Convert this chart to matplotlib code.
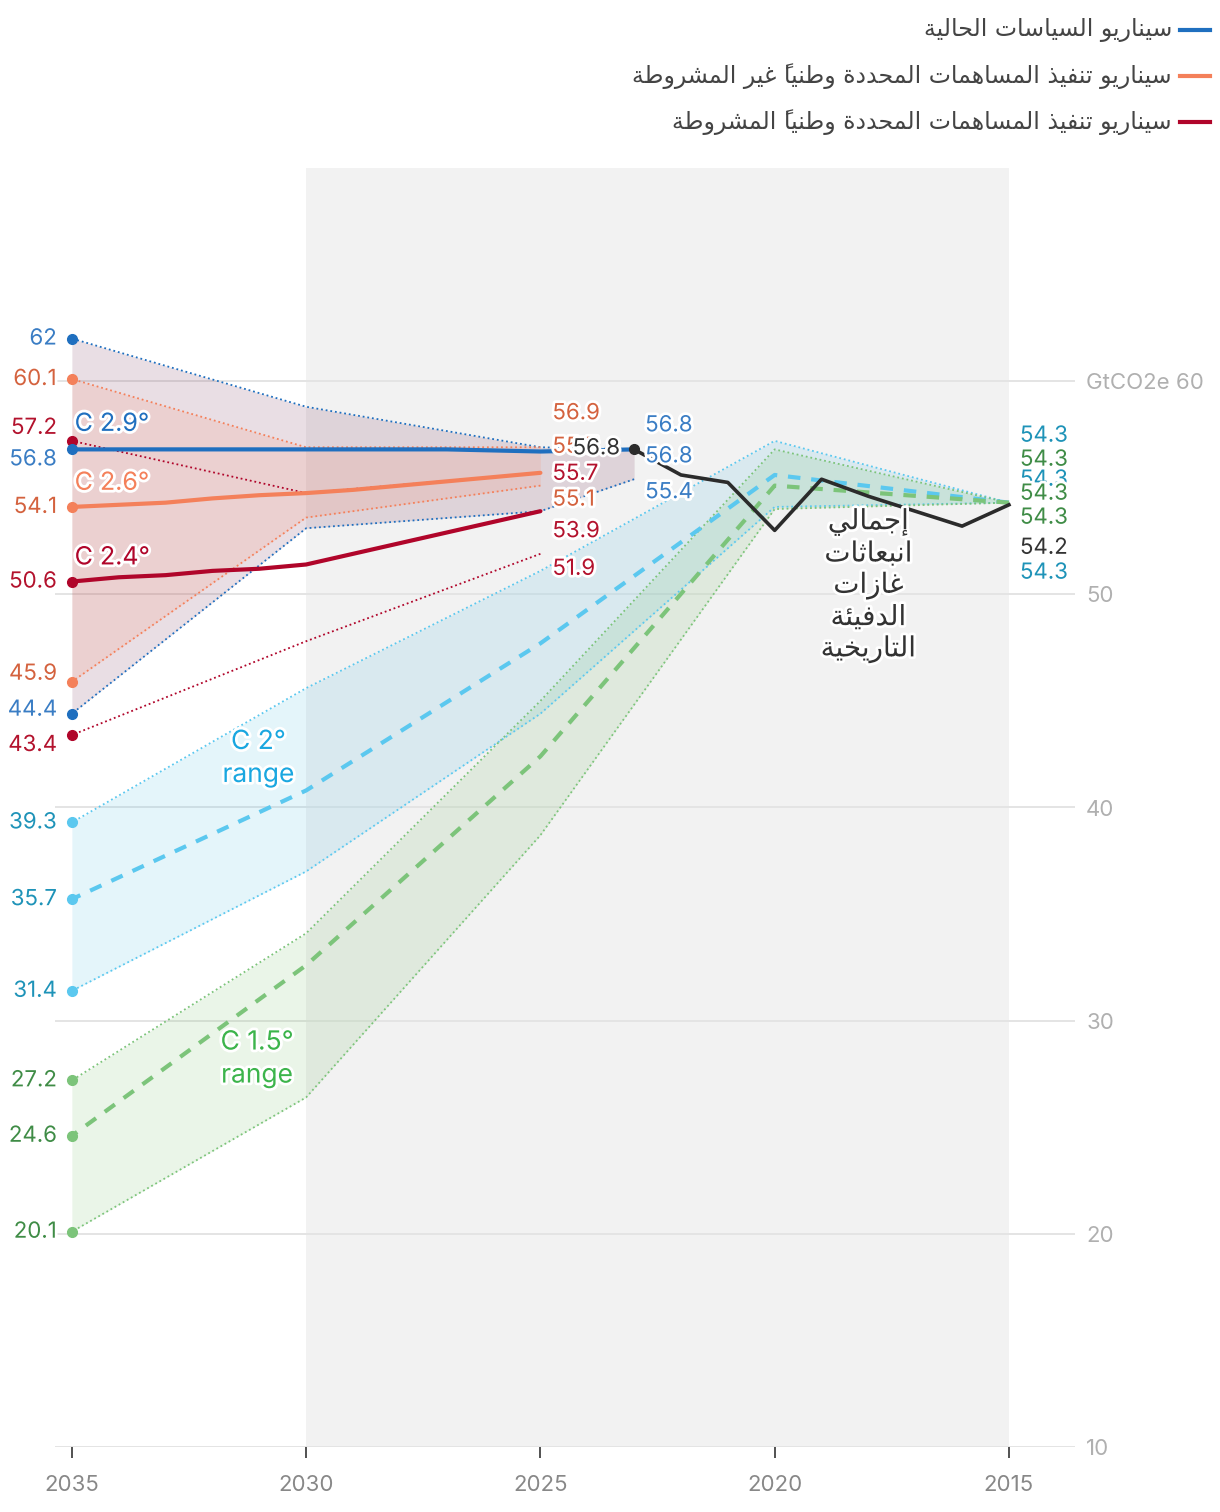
import matplotlib
matplotlib.use('Agg')
import matplotlib.pyplot as plt
import matplotlib.patheffects as pe
from matplotlib.lines import Line2D

plt.rcParams['font.family'] = ['Inter', 'DejaVu Sans']

# ---- data (GtCO2e) ----
hist_years = [2015, 2016, 2017, 2018, 2019, 2020, 2021, 2022, 2023]
hist = [54.2, 53.2, 53.9, 54.6, 55.4, 53.0, 55.25, 55.6, 56.8]

cp_years = [2023, 2024, 2025, 2026, 2027, 2028, 2029, 2030, 2031, 2032, 2033, 2034, 2035]
cp_mid = [56.8, 56.75, 56.7, 56.75, 56.8, 56.8, 56.8, 56.8, 56.8, 56.8, 56.8, 56.8, 56.8]
cp_range_years = [2023, 2025, 2030, 2035]
cp_high = [56.8, 56.9, 58.8, 62.0]
cp_low = [55.4, 53.9, 53.1, 44.4]

ndc_years = [2025, 2026, 2027, 2028, 2029, 2030, 2031, 2032, 2033, 2034, 2035]
uncond_mid = [55.7, 55.5, 55.3, 55.1, 54.9, 54.75, 54.65, 54.5, 54.3, 54.2, 54.1]
cond_mid = [53.9, 53.4, 52.9, 52.4, 51.9, 51.4, 51.2, 51.1, 50.9, 50.8, 50.6]
ndc_range_years = [2025, 2030, 2035]
uncond_high = [56.9, 56.9, 60.1]
uncond_low = [55.1, 53.6, 45.9]
cond_high = [55.7, 54.75, 57.2]
cond_low = [51.9, 47.8, 43.4]

path_years = [2015, 2020, 2025, 2030, 2035]
c2_high = [54.3, 57.2, 51.1, 45.6, 39.3]
c2_mid = [54.3, 55.6, 47.7, 40.8, 35.7]
c2_low = [54.3, 54.1, 44.4, 37.0, 31.4]
c15_high = [54.3, 56.8, 45.0, 34.1, 27.2]
c15_mid = [54.3, 55.1, 42.4, 32.6, 24.6]
c15_low = [54.3, 54.0, 38.7, 26.4, 20.1]

legend_labels = [
    'سيناريو السياسات الحالية',
    'سيناريو تنفيذ المساهمات المحددة وطنياً غير المشروطة',
    'سيناريو تنفيذ المساهمات المحددة وطنياً المشروطة',
]
hist_label = ['إجمالي', 'انبعاثات', 'غازات', 'الدفيئة', 'التاريخية']
x_ticks = [2035, 2030, 2025, 2020, 2015]
y_ticks = [10, 20, 30, 40, 50, 60]
y_ticklabels = ['10', '20', '30', '40', '50', 'GtCO2e 60']

BLUE = '#1f6fbf'
ORANGE = '#f4805a'
RED = '#b0052a'
CYAN = '#5bc8ef'
GREEN = '#7cc47a'
BLACK = '#2b2b2b'

# ---- minimal arabic shaping (matplotlib has no complex text layout) ----
dual = {'\u0626': 0xFE89, '\u0628': 0xFE8F, '\u062A': 0xFE95, '\u062B': 0xFE99,
        '\u062C': 0xFE9D, '\u062D': 0xFEA1, '\u062E': 0xFEA5, '\u0633': 0xFEB1,
        '\u0634': 0xFEB5, '\u0635': 0xFEB9, '\u0636': 0xFEBD, '\u0637': 0xFEC1,
        '\u0638': 0xFEC5, '\u0639': 0xFEC9, '\u063A': 0xFECD, '\u0641': 0xFED1,
        '\u0642': 0xFED5, '\u0643': 0xFED9, '\u0644': 0xFEDD, '\u0645': 0xFEE1,
        '\u0646': 0xFEE5, '\u0647': 0xFEE9, '\u064A': 0xFEF1}
right = {'\u0622': 0xFE81, '\u0623': 0xFE83, '\u0624': 0xFE85, '\u0625': 0xFE87,
         '\u0627': 0xFE8D, '\u0629': 0xFE93, '\u062F': 0xFEA9, '\u0630': 0xFEAB,
         '\u0631': 0xFEAD, '\u0632': 0xFEAF, '\u0648': 0xFEED, '\u0649': 0xFEEF}
lamalef = {'\u0622': 0xFEF5, '\u0623': 0xFEF7, '\u0625': 0xFEF9, '\u0627': 0xFEFB}


def kind(c):
    if c in dual:
        return 'D'
    if c in right or c.startswith('LA'):
        return 'R'
    return 'N'


def ar(text):
    items = []
    for ch in text:
        if '\u064B' <= ch <= '\u0652' and items:
            items[-1][1] += ch
        elif ch in lamalef and items and items[-1][0] == '\u0644':
            items[-1][0] = 'LA' + ch
        else:
            items.append([ch, ''])
    glyphs = []
    for i, (c, marks) in enumerate(items):
        k = kind(c)
        prev_j = i > 0 and kind(items[i - 1][0]) == 'D'
        next_j = k == 'D' and i + 1 < len(items) and kind(items[i + 1][0]) != 'N'
        if k == 'N':
            g = c
        else:
            base = lamalef[c[2]] if c.startswith('LA') else dual.get(c, right.get(c))
            off = 3 if (prev_j and next_j) else 1 if prev_j else 2 if next_j else 0
            g = chr(base + off)
        glyphs.append(marks + g)
    return ''.join(reversed(glyphs))


# ---- figure ----
fig = plt.figure(figsize=(12.2, 15.12), dpi=100)
ax = fig.add_axes([55 / 1220, 1 - 1447 / 1512, 1020 / 1220, (1447 - 168) / 1512])
ax.set_xlim(2035.36, 2013.59)
ax.set_ylim(10, 70)

ax.axvspan(2030, 2015, color='#f2f2f2', lw=0, zorder=0)
for v in y_ticks:
    ax.axhline(v, color='#e4e4e4', lw=1.4, zorder=0.5)

halo = [pe.withStroke(linewidth=4, foreground='white')]
dot = (0, (1, 1.6))

# pathway ranges
ax.fill_between(path_years, c2_low, c2_high, color='#4bbce4', alpha=0.15, lw=0, zorder=1)
ax.fill_between(path_years, c15_low, c15_high, color='#73bc66', alpha=0.15, lw=0, zorder=1)
for arr in (c2_high, c2_low):
    ax.plot(path_years, arr, color=CYAN, lw=1.3, ls=dot, zorder=2)
for arr in (c15_high, c15_low):
    ax.plot(path_years, arr, color=GREEN, lw=1.3, ls=dot, zorder=2)
ax.plot(path_years, c2_mid, color=CYAN, lw=3, ls=(0, (3, 2.6)), zorder=3)
ax.plot(path_years, c15_mid, color=GREEN, lw=3, ls=(0, (3, 2.6)), zorder=3)

# scenario ranges
ax.fill_between(cp_range_years, cp_low, cp_high, color='#6c234b', alpha=0.15, lw=0, zorder=1.5)
ax.fill_between(ndc_range_years, uncond_low, uncond_high, color='#fd815f', alpha=0.15, lw=0, zorder=1.6)
for arr in (cp_high, cp_low):
    ax.plot(cp_range_years, arr, color=BLUE, lw=1.3, ls=dot, zorder=4)
for arr in (uncond_high, uncond_low):
    ax.plot(ndc_range_years, arr, color=ORANGE, lw=1.3, ls=dot, zorder=4)
for arr in (cond_high, cond_low):
    ax.plot(ndc_range_years, arr, color=RED, lw=1.3, ls=dot, zorder=4)

ax.plot(cp_years, cp_mid, color=BLUE, lw=3, zorder=5, solid_capstyle='round')
ax.plot(ndc_years, uncond_mid, color=ORANGE, lw=3, zorder=5, solid_capstyle='round')
ax.plot(ndc_years, cond_mid, color=RED, lw=3, zorder=5, solid_capstyle='round')
ax.plot(hist_years, hist, color=BLACK, lw=2.6, zorder=6)
ax.plot(hist_years[-1], hist[-1], 'o', color=BLACK, ms=7, zorder=6)

# end dots at 2035
end_series = [
    (cp_high, BLUE), (uncond_high, ORANGE), (cond_high, RED), (cp_mid, BLUE),
    (uncond_mid, ORANGE), (cond_mid, RED), (uncond_low, ORANGE), (cp_low, BLUE),
    (cond_low, RED), (c2_high, CYAN), (c2_mid, CYAN), (c2_low, CYAN),
    (c15_high, GREEN), (c15_mid, GREEN), (c15_low, GREEN),
]
for arr, c in end_series:
    ax.plot(2035, arr[-1], 'o', color=c, ms=7, zorder=7)

PX = 0.72


def lab(x, y, s, color, dx, dy, ha='left', size=16):
    ax.annotate(s, (x, y), xytext=(dx * PX, dy * PX), textcoords='offset points',
                ha=ha, va='center', color=color, fontsize=size,
                path_effects=halo, zorder=9)


TBLUE, TORANGE, TRED, TCYAN, TGREEN = '#3a7dc4', '#d4623e', '#b3122d', '#1e93b8', '#3f8c46'

# labels at 2035 (value, colour, vertical nudge in px)
left = [
    (cp_high[-1], TBLUE, 0), (uncond_high[-1], TORANGE, 0), (cond_high[-1], TRED, 13),
    (cp_mid[-1], TBLUE, -10), (uncond_mid[-1], TORANGE, 0), (cond_mid[-1], TRED, 0),
    (uncond_low[-1], TORANGE, 8), (cp_low[-1], TBLUE, 4), (cond_low[-1], TRED, -10),
    (c2_high[-1], TCYAN, 0), (c2_mid[-1], TCYAN, 0), (c2_low[-1], TCYAN, 0),
    (c15_high[-1], TGREEN, 0), (c15_mid[-1], TGREEN, 0), (c15_low[-1], TGREEN, 0),
]
for v, c, dy in left:
    lab(2035, v, f'{v:g}', c, -15, dy, ha='right')

# labels at 2025 for the NDC scenarios
for v, c, dy in [(uncond_high[0], TORANGE, 34), (uncond_mid[0], TORANGE, 26),
                 (cond_high[0], TRED, -1), (uncond_low[0], TORANGE, -14),
                 (cond_mid[0], TRED, -20), (cond_low[0], TRED, -15)]:
    lab(2025, v, f'{v:g}', c, 12, dy)

# labels at 2023
for v, c, dy in [(cp_high[0], TBLUE, 24), (cp_mid[0], TBLUE, -7), (cp_low[0], TBLUE, -13)]:
    lab(2023, v, f'{v:g}', c, 11, dy)
lab(2023, hist[-1], f'{hist[-1]:g}', '#333333', -14, 1, ha='right')

# labels at 2015
for v, c, dy in [(c2_high[0], TCYAN, 67), (c15_high[0], TGREEN, 43), (c2_mid[0], TCYAN, 23),
                 (c15_mid[0], TGREEN, 9), (c15_low[0], TGREEN, -15), (hist[0], '#333333', -43),
                 (c2_low[0], TCYAN, -70)]:
    lab(2015, v, f'{v:g}', c, 11, dy)

# scenario names
big = dict(fontsize=18, path_effects=halo, zorder=9, va='center')
ax.annotate('C 2.9°', (2035, cp_mid[-1]), xytext=(2, 18), textcoords='offset points', color=BLUE, **big)
ax.annotate('C 2.6°', (2035, uncond_mid[-1]), xytext=(2, 17), textcoords='offset points', color=ORANGE, **big)
ax.annotate('C 2.4°', (2035, cond_mid[-1]), xytext=(2, 17), textcoords='offset points', color=RED, **big)
rng = dict(fontsize=19, path_effects=halo, zorder=9, va='center', ha='center', linespacing=1.35)
ax.text(2031.02, 42.3, 'C 2°\nrange', color='#1aa7e0', **rng)
ax.text(2031.05, 28.2, 'C 1.5°\nrange', color='#3cb44b', **rng)
ax.text(2018.0, 50.4, '\n'.join(ar(s) for s in hist_label), color='#333333', ha='center',
        va='center', family='DejaVu Sans', fontsize=20, linespacing=1.15,
        path_effects=halo, zorder=9)

# axes styling
for s in ax.spines.values():
    s.set_visible(False)
ax.set_xticks(x_ticks)
ax.set_xticklabels([str(x) for x in x_ticks])
ax.tick_params(axis='x', length=8, width=1.2, color='#333333', labelcolor='#888888',
               labelsize=16, pad=12)
ax.yaxis.tick_right()
ax.set_yticks(y_ticks)
ax.set_yticklabels(y_ticklabels)
ax.tick_params(axis='y', length=0, pad=8, labelcolor='#b0b0b0', labelsize=16)

# legend (top right)
for i, (txt, c) in enumerate(zip(legend_labels, [BLUE, ORANGE, RED])):
    y = 1 - (30 + 46 * i) / 1512
    fig.add_artist(Line2D([1180 / 1220, 1210 / 1220], [y, y], color=c, lw=3))
    fig.text(1172 / 1220, y, ar(txt), ha='right', va='center', fontsize=17,
             color='#444444', family='DejaVu Sans')

fig.savefig('out.png', dpi=100)
